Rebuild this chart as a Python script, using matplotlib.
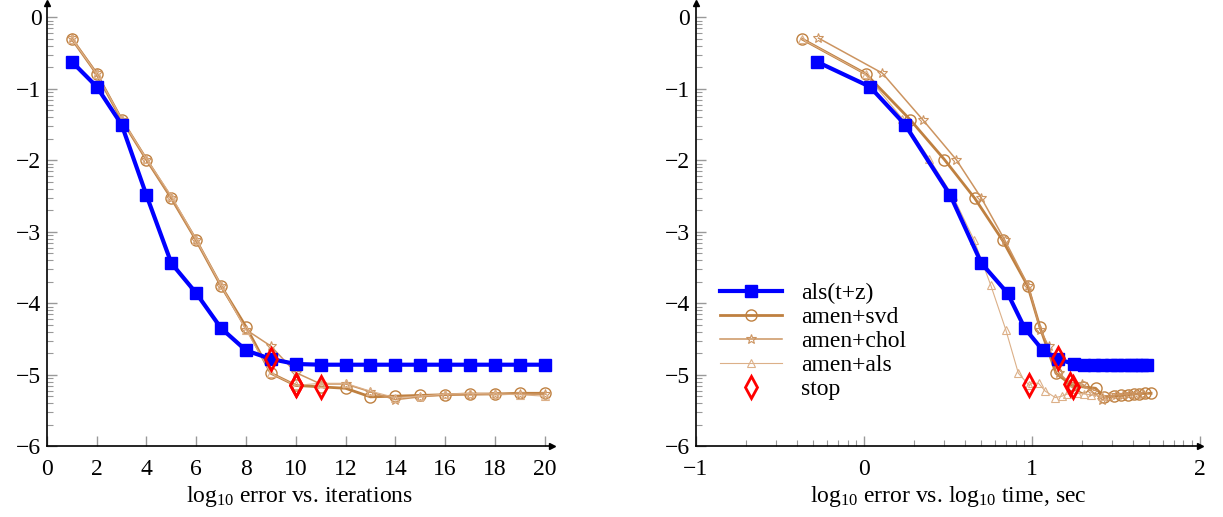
import matplotlib
matplotlib.use('Agg')
import matplotlib.pyplot as plt
import numpy as np

plt.rcParams['font.family'] = ['Liberation Serif', 'DejaVu Serif']
plt.rcParams['mathtext.fontset'] = 'custom'
plt.rcParams['mathtext.rm'] = 'Liberation Serif'
plt.rcParams['mathtext.it'] = 'Liberation Serif:italic'
plt.rcParams['font.size'] = 17

###########################################################################
# Data (log10 error per iteration, log10 cumulative time)
###########################################################################
iterations = list(range(1, 21))

err_als_tz = [-0.62, -0.97, -1.50, -2.49, -3.44, -3.86, -4.35, -4.66, -4.78, -4.85,
              -4.86, -4.86, -4.86, -4.86, -4.86, -4.86, -4.86, -4.86, -4.86, -4.86]
err_svd = [-0.30, -0.79, -1.43, -1.99, -2.53, -3.12, -3.76, -4.33, -4.98, -5.15,
           -5.17, -5.19, -5.31, -5.30, -5.29, -5.28, -5.27, -5.27, -5.26, -5.26]
err_chol = [-0.29, -0.78, -1.43, -1.99, -2.53, -3.12, -3.76, -4.37, -4.60, -4.97,
            -5.13, -5.13, -5.24, -5.35, -5.31, -5.28, -5.28, -5.27, -5.27, -5.27]
err_als = [-0.30, -0.79, -1.42, -1.98, -2.50, -3.11, -3.75, -4.37, -4.98, -5.15,
           -5.12, -5.12, -5.23, -5.32, -5.30, -5.27, -5.26, -5.27, -5.28, -5.30]

time_als_tz = [-0.28, 0.036, 0.245, 0.515, 0.70, 0.856, 0.958, 1.066, 1.155, 1.25,
               1.31, 1.37, 1.42, 1.47, 1.51, 1.55, 1.59, 1.62, 1.655, 1.685]
time_svd = [-0.37, 0.012, 0.275, 0.48, 0.66, 0.826, 0.976, 1.048, 1.144, 1.24,
            1.305, 1.38, 1.43, 1.49, 1.53, 1.57, 1.61, 1.64, 1.675, 1.71]
time_chol = [-0.27, 0.11, 0.35, 0.55, 0.70, 0.84, 0.98, 1.05, 1.10, 1.16,
             1.23, 1.30, 1.36, 1.42, 1.46, 1.50, 1.54, 1.58, 1.62, 1.66]
time_als = [-0.37, 0.01, 0.23, 0.39, 0.53, 0.655, 0.756, 0.845, 0.92, 0.985,
            1.0, 1.04, 1.08, 1.14, 1.18, 1.21, 1.27, 1.31, 1.35, 1.42]

stop_iter = [9, 10, 10, 11]
stop_iter_err = [-4.78, -5.15, -5.15, -5.17]
stop_time = [1.155, 0.985, 1.245, 1.23]
stop_time_err = [-4.77, -5.15, -5.17, -5.13]

###########################################################################
# Styles
###########################################################################
blue = '#0000ff'
c_svd = '#bf8040'
c_chol = '#cc9460'
c_als = '#dcb088'

styles = [
    dict(color=blue, lw=3.0, marker='s', ms=9, mfc=blue, mec=blue, label='als(t+z)', zorder=3),
    dict(color=c_svd, lw=2.0, marker='o', ms=8, mfc='none', mec=c_svd, mew=1.0, label='amen+svd', zorder=2),
    dict(color=c_chol, lw=1.1, marker='*', ms=7, mfc='none', mec=c_chol, mew=0.8, label='amen+chol', zorder=2),
    dict(color=c_als, lw=0.8, marker='^', ms=6, mfc='none', mec=c_als, mew=0.8, label='amen+als', zorder=2),
]
stop_style = dict(ls='none', marker='d', ms=11, mfc='none', mec='red', mew=2.0, label='stop', zorder=4)


def style_axes(ax, xlim, xmajor, xminor):
    ax.set_xlim(*xlim)
    ax.set_ylim(-6, 0.2)
    for s in ['top', 'right']:
        ax.spines[s].set_visible(False)
    for s in ['left', 'bottom']:
        ax.spines[s].set_linewidth(1.2)
    ax.set_xticks(xmajor)
    ax.set_xticks(xminor, minor=True)
    ax.set_yticks(range(-6, 1))
    yminor = [n + np.log10(k) for n in range(-6, 0) for k in range(2, 10)]
    ax.set_yticks(yminor, minor=True)
    ax.tick_params(which='major', direction='in', length=7, color='#999999', width=1.0)
    ax.tick_params(which='minor', direction='in', length=4, color='#999999', width=0.8)
    ax.tick_params(axis='x', which='major', pad=9)
    ax.tick_params(axis='y', which='major', pad=4)
    ax.set_xticklabels([str(int(v)).replace('-', '\u2212') for v in xmajor])
    ax.set_yticklabels([str(v).replace('-', '\u2212') for v in range(-6, 1)])
    # arrow heads at axis ends
    ax.plot(1, 0, '>k', ms=5, transform=ax.transAxes, clip_on=False)
    ax.plot(0, 1, '^k', ms=5, transform=ax.transAxes, clip_on=False)


fig = plt.figure(figsize=(12.23, 5.17), dpi=100)
ax1 = fig.add_axes([0.0384, 0.137, 0.413, 0.857])
ax2 = fig.add_axes([0.569, 0.137, 0.412, 0.857])

# Left: error vs iterations
for err, st in zip([err_als_tz, err_svd, err_chol, err_als], styles):
    ax1.plot(iterations, err, **st)
ax1.plot(stop_iter, stop_iter_err, **stop_style)
style_axes(ax1, (0, 20.3), list(range(0, 21, 2)), [])
ax1.set_xlabel(r'log$_{10}$ error vs. iterations', labelpad=3)

# Right: error vs time
for t, err, st in zip([time_als_tz, time_svd, time_chol, time_als],
                      [err_als_tz, err_svd, err_chol, err_als], styles):
    ax2.plot(t, err, **st)
ax2.plot(stop_time, stop_time_err, **stop_style)
xminor = [n + np.log10(k) for n in range(-1, 2) for k in range(2, 10)]
style_axes(ax2, (-1, 2.0), [-1, 0, 1, 2], xminor)
ax2.set_xlabel(r'log$_{10}$ error vs. log$_{10}$ time, sec', labelpad=3)
ax2.legend(loc='upper left', bbox_to_anchor=(0.03, 0.39), frameon=False,
           handlelength=2.6, labelspacing=0.1, borderaxespad=0, fontsize=17)

fig.savefig('out.png', dpi=100)
